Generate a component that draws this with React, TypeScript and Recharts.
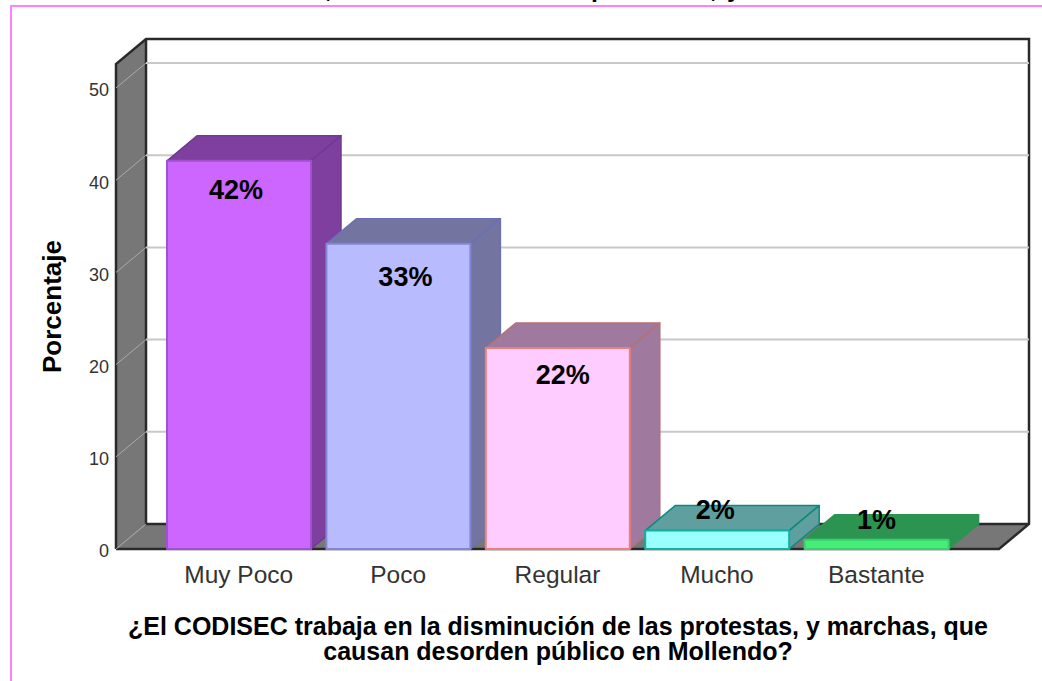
import { Bar, BarChart, CartesianGrid, LabelList, ReferenceArea, XAxis, YAxis } from "recharts";

const categories = ["Muy Poco", "Poco", "Regular", "Mucho", "Bastante"];
const percentages = [42.1, 33.1, 21.8, 2.0, 1.0];
const yTicks = [0, 10, 20, 30, 40, 50];
const xTitleLines = [
  "¿El CODISEC trabaja en la disminución de las protestas, y marchas, que",
  "causan desorden público en Mollendo?",
];

const frontColors = ["#cc66ff", "#b8bcff", "#ffccff", "#99ffff", "#44ee77"];
const sideColors = ["#7f3f9e", "#73749f", "#9f7a9e", "#5f9f9f", "#2b9450"];
const frontEdges = ["#a050d0", "#8085d8", "#e88080", "#10b0a4", "#3ad070"];
const sideEdges = ["#6f3a90", "#6a70b8", "#b87070", "#0a8a80", "#2b9450"];
// the percent labels are not quite centred on the bars in the original
const labelNudgeX = [-3, 7, 5, -2, 0];
const labelNudgeY = [29, 33, 27, -21, -20];
// bits of the cropped title that stick out at the top edge
const croppedTitle = [
  { ch: ",", at: 325 },
  { ch: "p", at: 591 },
  { ch: ",", at: 710 },
  { ch: "y", at: 727 },
];

const data = categories.map((name, i) => ({ name, value: percentages[i] }));

const DX = 30;
const DY = 25;
const PAD = 43;
const FONT = "'Liberation Sans', Arial, sans-serif";
const PLOT_TOP = 64;
const PLOT_BOTTOM = 549;

// ReferenceArea only spans the padded x range, so widen it back out by PAD
function Walls({ x: rawX, y, width: rawW, height }: any) {
  const x = rawX - PAD;
  const width = rawW + PAD * 2;
  const r = x + width;
  const b = y + height;
  return (
    <g>
      <rect x={x + DX} y={y - DY} width={width} height={height} fill="#fff" />
      <polygon points={`${x},${y} ${x + DX},${y - DY} ${x + DX},${b - DY} ${x},${b}`} fill="#777" />
      <polygon points={`${x},${b} ${x + DX},${b - DY} ${r + DX},${b - DY} ${r},${b}`} fill="#777" />
      <path
        d={`M${x},${b} V${y} L${x + DX},${y - DY} H${r + DX} V${b - DY} L${r},${b} H${x} M${x + DX},${y - DY} V${b - DY} H${r + DX}`}
        fill="none"
        stroke="#2a2a2a"
        strokeWidth={2.5}
      />
    </g>
  );
}

function GridLine({ x1, x2, y1 }: any) {
  if (y1 <= PLOT_TOP + 1) return null;
  const isFloor = y1 >= PLOT_BOTTOM - 1;
  return (
    <g>
      <line x1={x1} y1={y1} x2={x1 + DX} y2={y1 - DY} stroke="#aaa" strokeWidth={1} />
      {!isFloor && <line x1={x1 + DX} y1={y1 - DY} x2={x2 + DX} y2={y1 - DY} stroke="#c8c8c8" strokeWidth={2} />}
    </g>
  );
}

function Box({ x, y, width, height, index }: any) {
  const r = x + width;
  const b = y + height;
  return (
    <g strokeWidth={1.5} strokeLinejoin="round">
      <polygon
        points={`${x},${y} ${x + DX},${y - DY} ${r + DX},${y - DY} ${r},${y}`}
        fill={sideColors[index]}
        stroke={sideEdges[index]}
      />
      <polygon
        points={`${r},${y} ${r + DX},${y - DY} ${r + DX},${b - DY} ${r},${b}`}
        fill={sideColors[index]}
        stroke={sideEdges[index]}
      />
      <rect x={x} y={y} width={width} height={height} fill={frontColors[index]} stroke={frontEdges[index]} strokeWidth={2} />
    </g>
  );
}

function BoxLabel({ x, y, width, value, index }: any) {
  return (
    <text
      x={x + width / 2 + labelNudgeX[index]}
      y={y + labelNudgeY[index]}
      textAnchor="middle"
      dominantBaseline="central"
      fontFamily={FONT}
      fontWeight="bold"
      fontSize={27}
      fill="#000"
    >
      {Math.round(value)}%
    </text>
  );
}

function XTitle() {
  return (
    <text textAnchor="middle" fontFamily={FONT} fontWeight="bold" fontSize={25} fill="#000">
      {xTitleLines.map((line, i) => (
        <tspan key={line} x={558} y={635 + i * 25}>
          {line}
        </tspan>
      ))}
    </text>
  );
}

export default function App() {
  return (
    <div style={{ position: "absolute", left: 0, top: 0, width: 1042, height: 681, background: "#fff", overflow: "hidden" }}>
      <div
        style={{
          position: "absolute",
          left: 10,
          top: 5,
          width: 1032,
          height: 676,
          boxSizing: "border-box",
          borderLeft: "2px solid #ff80ff",
          borderTop: "2px solid #ff80ff",
        }}
      />
      {croppedTitle.map((c) => (
        <div
          key={c.at}
          style={{ position: "absolute", left: c.at, top: -26, fontFamily: FONT, fontWeight: "bold", fontSize: 25, lineHeight: "28px" }}
        >
          {c.ch}
        </div>
      ))}
      <BarChart
        width={1042}
        height={681}
        data={data}
        barSize={144}
        margin={{ top: PLOT_TOP, right: 43, bottom: 102, left: 0 }}
        style={{ position: "absolute", left: 0, top: 0 }}
      >
        <ReferenceArea shape={<Walls />} ifOverflow="visible" fill="none" zIndex={-200} />
        <CartesianGrid vertical={false} horizontal={(p: any) => <GridLine key={p.key} {...p} />} />
        <XAxis
          dataKey="name"
          interval={0}
          axisLine={false}
          tickLine={false}
          padding={{ left: PAD, right: PAD }}
          tickMargin={11}
          tick={{ fontFamily: FONT, fontSize: 24.5, fill: "#333" }}
          label={{ content: <XTitle /> }}
        />
        <YAxis
          width={116}
          domain={[0, 52.6]}
          ticks={yTicks}
          axisLine={false}
          tickLine={false}
          tickMargin={1}
          tick={{ fontFamily: FONT, fontSize: 18, fill: "#333", dy: 2 }}
          label={{
            value: "Porcentaje",
            angle: -90,
            position: "insideLeft",
            dx: 47,
            dy: 0,
            style: { fontFamily: FONT, fontWeight: "bold", fontSize: 26, fill: "#000", textAnchor: "middle" },
          }}
        />
        <Bar dataKey="value" shape={(p: any) => <Box {...p} />} isAnimationActive={false}>
          <LabelList dataKey="value" content={(p: any) => <BoxLabel {...p} />} />
        </Bar>
      </BarChart>
    </div>
  );
}
